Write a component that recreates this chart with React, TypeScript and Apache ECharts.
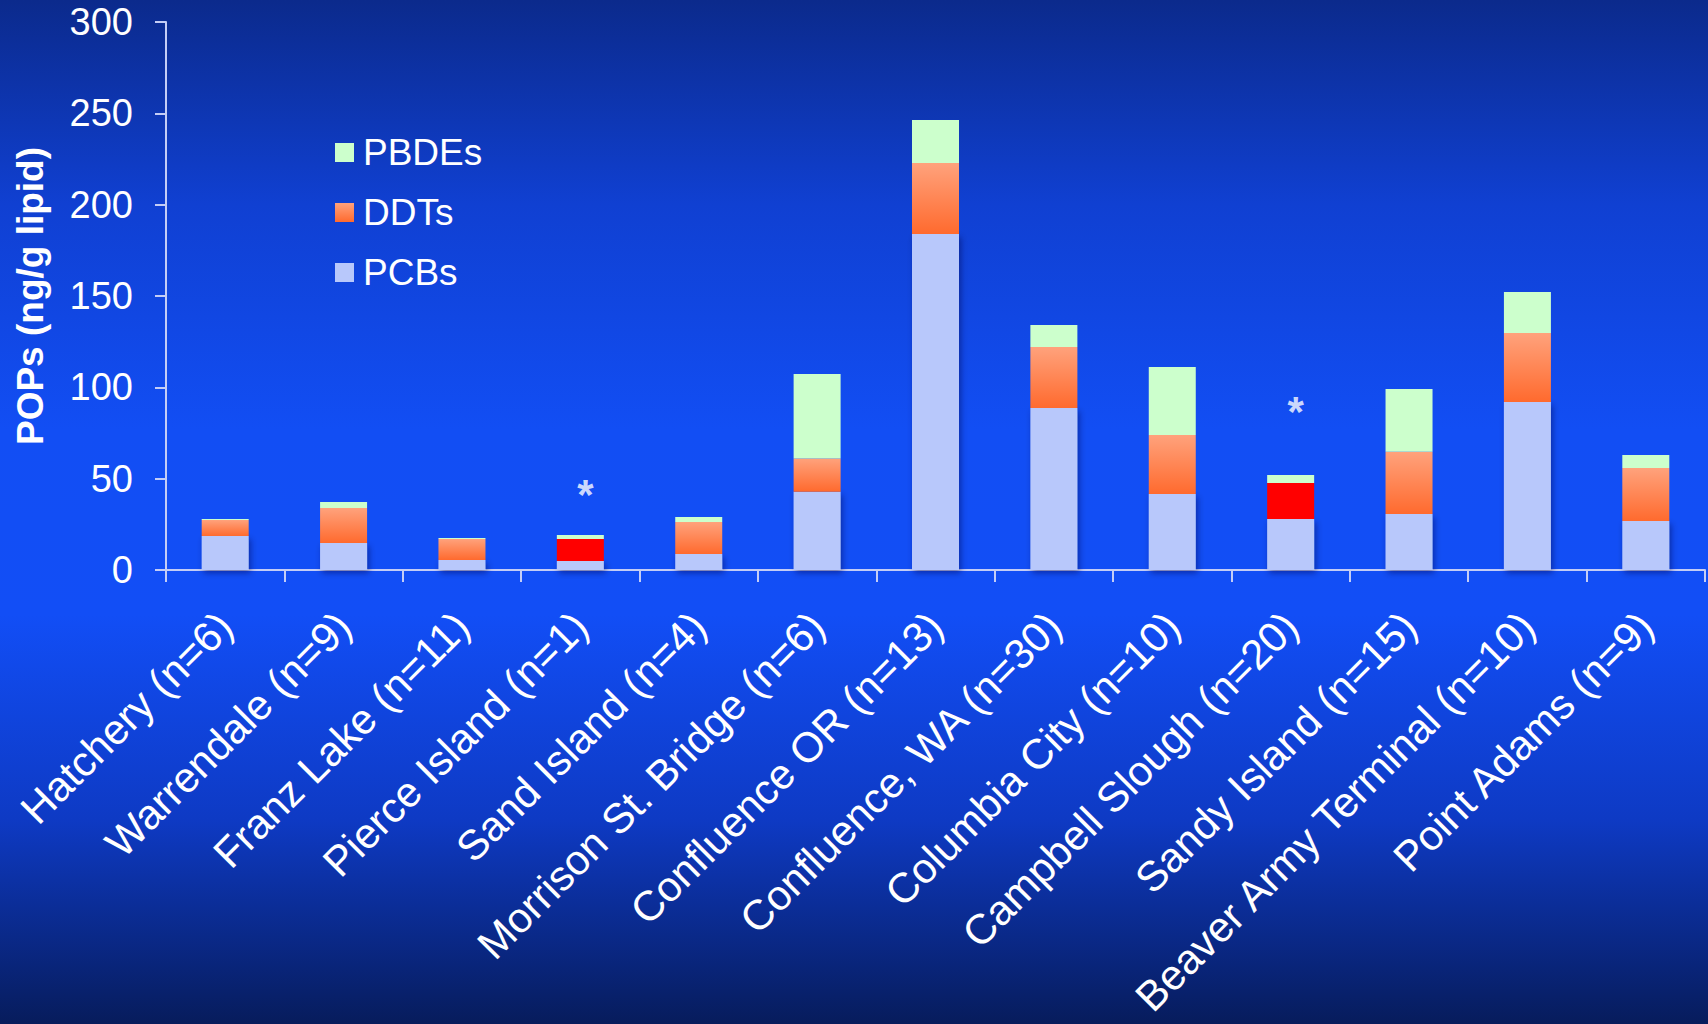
import React, { useEffect, useRef } from "react";
import * as echarts from "echarts";

// Sampling sites along the river (sample counts in parentheses)
const sites = [
  "Hatchery (n=6)",
  "Warrendale (n=9)",
  "Franz Lake (n=11)",
  "Pierce Island (n=1)",
  "Sand Island (n=4)",
  "Morrison St. Bridge (n=6)",
  "Confluence OR (n=13)",
  "Confluence, WA (n=30)",
  "Columbia City (n=10)",
  "Campbell Slough (n=20)",
  "Sandy Island (n=15)",
  "Beaver Army Terminal (n=10)",
  "Point Adams (n=9)",
];

// Stacked contaminant concentrations, ng/g lipid
const pcbs = [18.6, 14.8, 5.5, 4.9, 8.8, 42.9, 183.9, 88.7, 41.6, 27.9, 30.6, 92.0, 26.8];
const ddts = [8.8, 19.1, 11.5, 12.1, 17.5, 18.2, 38.9, 33.4, 32.3, 19.7, 34.2, 37.7, 29.0];
const pbdes = [0.5, 3.3, 0.5, 2.2, 2.7, 46.2, 23.5, 12.0, 37.2, 4.4, 34.3, 22.5, 7.1];

// Sites whose DDT segment is highlighted, with the height of their asterisk note
const flaggedSites = ["Pierce Island (n=1)", "Campbell Slough (n=20)"];
const asteriskLevels = [41.5, 86.5];

const yTicks = { min: 0, max: 300, interval: 50 };

const FONT = '"Liberation Sans", Arial, Helvetica, sans-serif';
const AXIS_COLOR = "#c4cdf6";

export default function App() {
  const ref = useRef<HTMLDivElement>(null);

  useEffect(() => {
    if (!ref.current) return;
    const chart = echarts.init(ref.current, undefined, { renderer: "svg" });

    const ddtGradient = new echarts.graphic.LinearGradient(0, 0, 0, 1, [
      { offset: 0, color: "#ffa27c" },
      { offset: 1, color: "#ff6a2e" },
    ]);

    const ddtData = ddts.map((v, i) =>
      flaggedSites.includes(sites[i])
        ? { value: v, itemStyle: { color: "#ff0000" } }
        : v
    );

    const asteriskData = flaggedSites.map((s, i) => [s, asteriskLevels[i]]);

    chart.setOption({
      animation: false,
      backgroundColor: new echarts.graphic.LinearGradient(0, 0, 0, 1, [
        { offset: 0, color: "#0b2a8c" },
        { offset: 0.2, color: "#1040d2" },
        { offset: 0.42, color: "#124ef4" },
        { offset: 0.6, color: "#124ef6" },
        { offset: 0.8, color: "#0e3ac4" },
        { offset: 1, color: "#071c5c" },
      ]),
      textStyle: { fontFamily: FONT },
      grid: {
        left: 166,
        right: 3,
        top: 22,
        bottom: 454,
        containLabel: false,
        outerBoundsMode: "none",
      },
      legend: {
        orient: "vertical",
        left: 330,
        top: 129,
        itemWidth: 19,
        itemHeight: 19,
        itemGap: 23,
        icon: "rect",
        data: ["PBDEs", "DDTs", "PCBs"],
        textStyle: { color: "#ffffff", fontSize: 37, fontFamily: FONT, padding: [0, 0, 0, 4] },
      },
      xAxis: {
        type: "category",
        data: sites,
        boundaryGap: true,
        axisLine: { lineStyle: { color: AXIS_COLOR, width: 2 } },
        axisTick: { show: true, alignWithLabel: false, length: 12, lineStyle: { color: AXIS_COLOR, width: 2 } },
        axisLabel: {
          rotate: 45,
          margin: 49,
          interval: 0,
          color: "#ffffff",
          fontSize: 42,
          fontFamily: FONT,
        },
      },
      yAxis: {
        type: "value",
        min: yTicks.min,
        max: yTicks.max,
        interval: yTicks.interval,
        name: "POPs (ng/g lipid)",
        nameLocation: "middle",
        nameRotate: 90,
        nameGap: 117,
        nameTextStyle: { color: "#ffffff", fontSize: 37, fontWeight: "bold", fontFamily: FONT },
        splitLine: { show: false },
        axisLine: { show: true, lineStyle: { color: AXIS_COLOR, width: 2 } },
        axisTick: { show: true, inside: false, length: 11, lineStyle: { color: AXIS_COLOR, width: 2 } },
        axisLabel: { color: "#ffffff", fontSize: 38, margin: 33, fontFamily: FONT },
      },
      series: [
        {
          name: "PCBs",
          type: "bar",
          stack: "pops",
          barWidth: 47,
          data: pcbs,
          itemStyle: {
            color: "#b8c8fb",
            shadowColor: "rgba(0,10,70,0.45)",
            shadowBlur: 6,
            shadowOffsetX: 2,
            shadowOffsetY: 3,
          },
        },
        {
          name: "DDTs",
          type: "bar",
          stack: "pops",
          barWidth: 47,
          data: ddtData,
          itemStyle: { color: ddtGradient },
        },
        {
          name: "PBDEs",
          type: "bar",
          stack: "pops",
          barWidth: 47,
          data: pbdes,
          itemStyle: { color: "#ccffcc" },
        },
        {
          name: "note",
          type: "scatter",
          data: asteriskData,
          symbol: "circle",
          symbolSize: 1,
          itemStyle: { color: "rgba(0,0,0,0)" },
          label: {
            show: true,
            position: "inside",
            offset: [5, 0],
            formatter: "*",
            color: "#ffffff",
            fontSize: 42,
            fontWeight: "bold",
            fontFamily: FONT,
          },
          silent: true,
        },
      ],
    });

    return () => chart.dispose();
  }, []);

  return (
    <div
      ref={ref}
      style={{ position: "fixed", left: 0, top: 0, width: 1708, height: 1024 }}
    />
  );
}
